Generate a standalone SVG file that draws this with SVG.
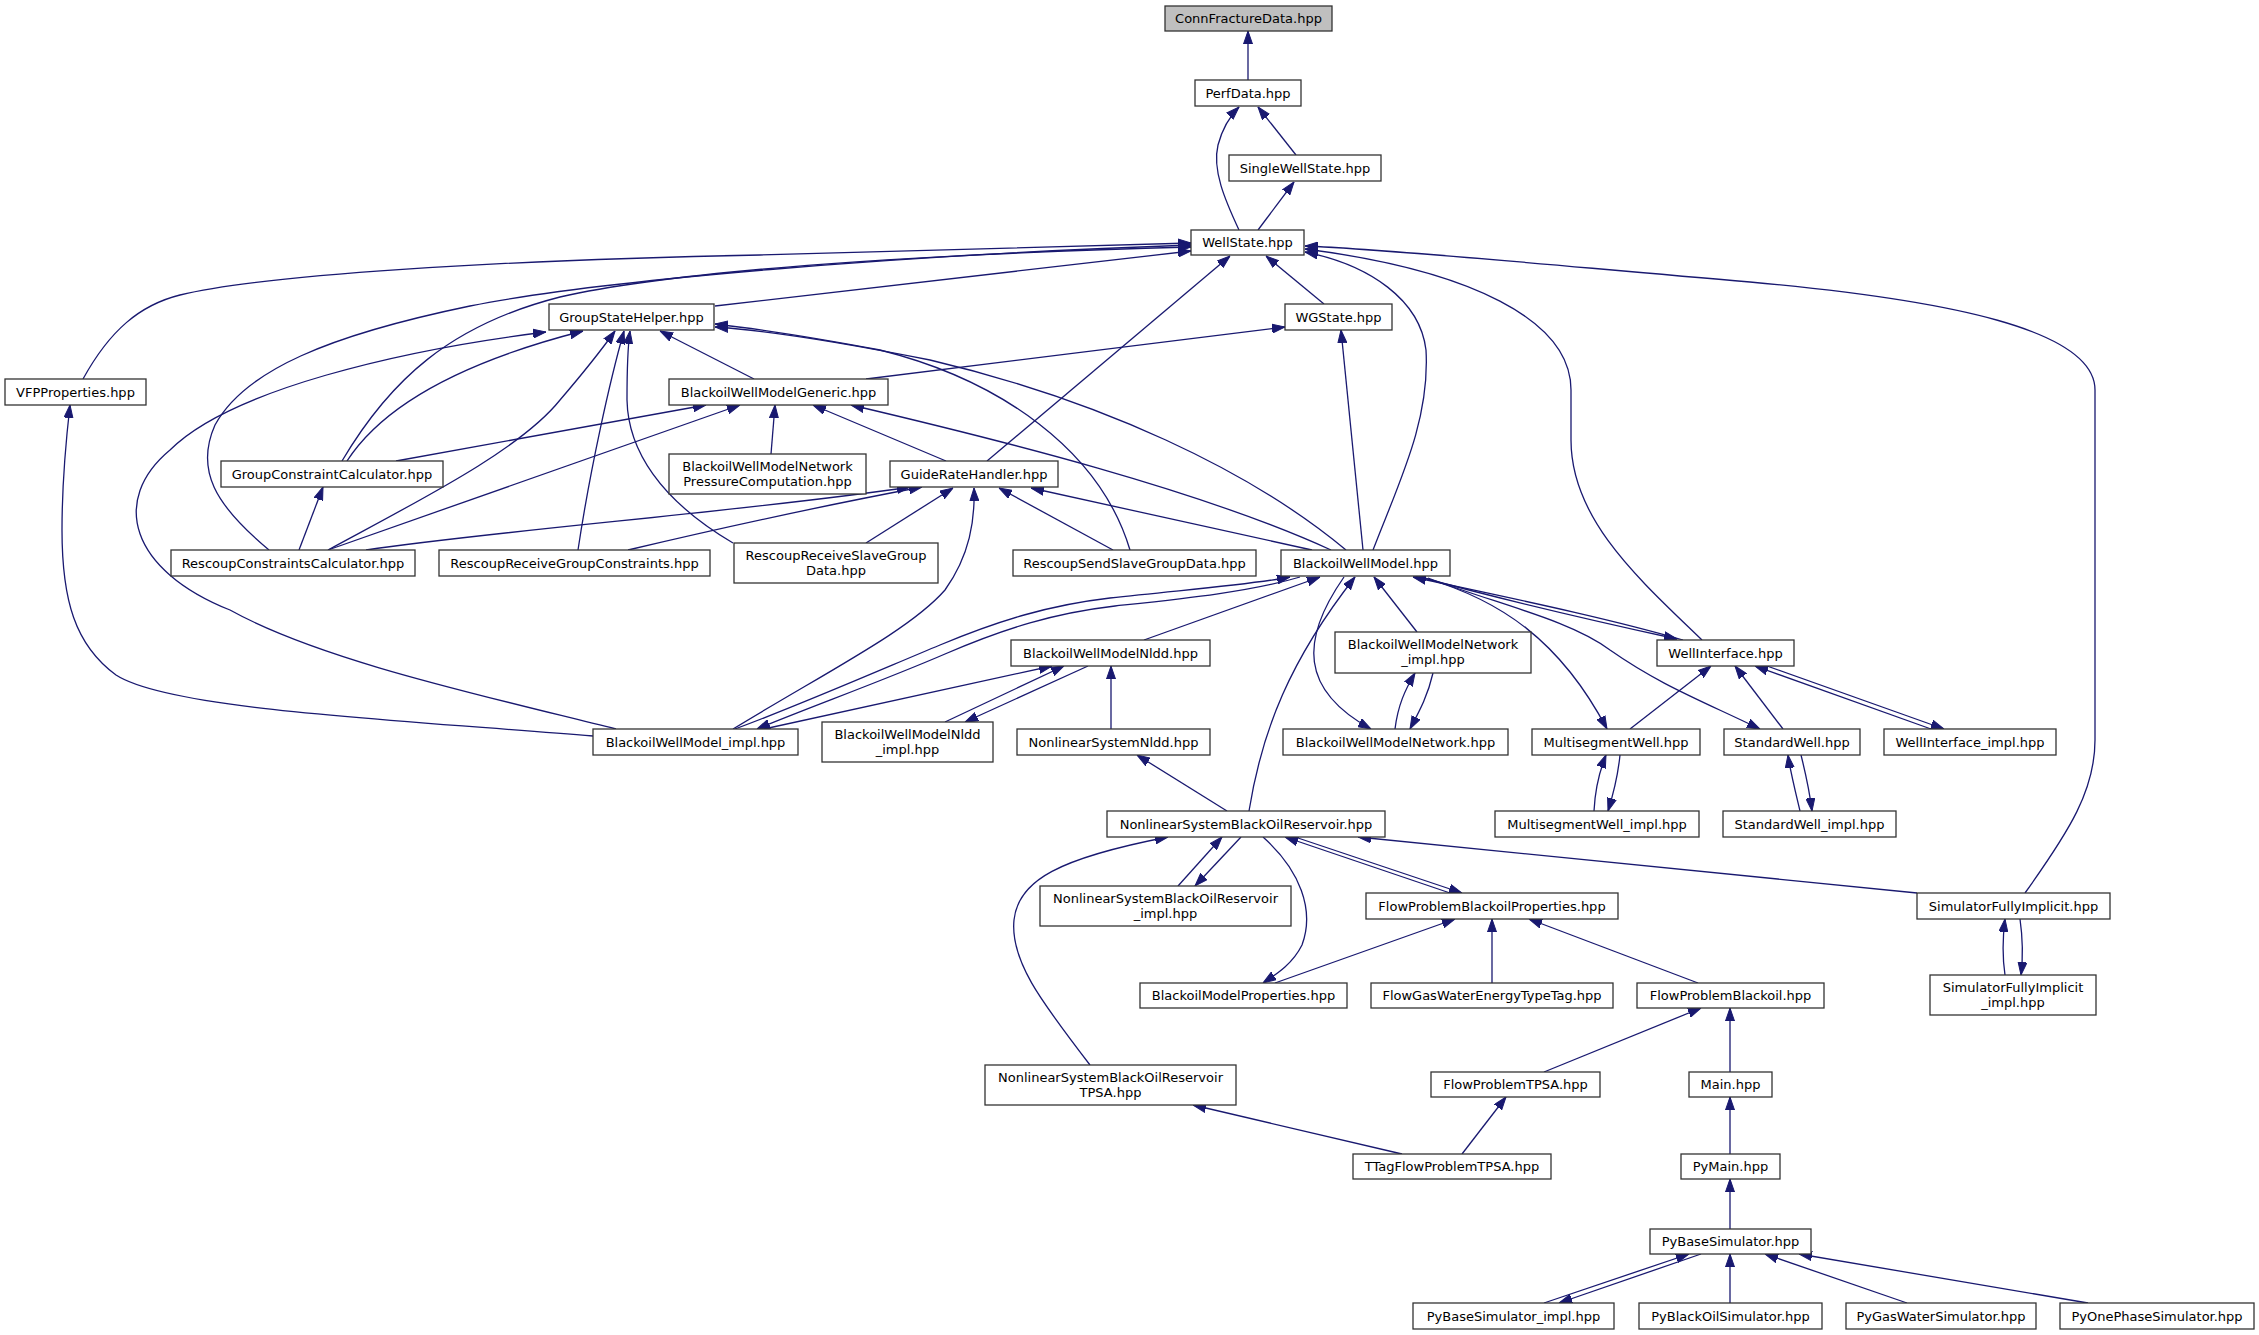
<svg xmlns="http://www.w3.org/2000/svg" width="2259" height="1335" viewBox="0 0 2259 1335">
<style>
.node rect{fill:#fff;stroke:#333;stroke-width:1.3}
.node.root rect{fill:#bfbfbf}
.node text{font-family:"DejaVu Sans","Liberation Sans",sans-serif;font-size:13px;fill:#000;text-anchor:middle}
.edges path{fill:none;stroke:#191970;stroke-width:1.3;marker-end:url(#ah)}
</style>
<defs>
<marker id="ah" viewBox="0 0 13 10" refX="13" refY="5" markerWidth="13" markerHeight="10" orient="auto" markerUnits="userSpaceOnUse">
<path d="M0,0.5 L13,5 L0,9.5 z" fill="#191970" stroke="#191970" stroke-width="1"/>
</marker>
</defs>
<rect width="2259" height="1335" fill="#fff"/>
<g class="edges" id="edges">
<path d="M1248,80 L1248,31"/>
<path d="M1296,155 L1258,107"/>
<path d="M1239,230 C1225,200 1212,170 1218,145 C1222,130 1228,118 1239,107"/>
<path d="M1258,230 L1294,182"/>
<path d="M83,379 C110,330 140,305 180,295 C260,275 500,260 760,255 C950,251 1100,246 1191,243"/>
<path d="M715,306 L1191,251"/>
<path d="M1324,304 L1266,256"/>
<path d="M342,461 C390,380 450,325 560,297 C700,265 1000,252 1191,247"/>
<path d="M269,550 C215,505 195,470 215,425 C245,370 330,335 470,306 C600,280 900,255 1191,245"/>
<path d="M987,461 L1230,256"/>
<path d="M1373,550 C1400,480 1430,420 1426,350 C1420,300 1370,265 1305,252"/>
<path d="M1702,640 C1640,580 1571,520 1571,440 L1571,390 C1571,320 1470,270 1305,249"/>
<path d="M2025,893 C2070,830 2095,790 2095,740 L2095,390 C2095,330 1950,300 1750,282 C1550,265 1400,250 1305,246"/>
<path d="M754,379 L660,331"/>
<path d="M347,461 C380,410 450,365 583,331"/>
<path d="M328,550 C420,500 520,450 560,400 C590,365 605,345 615,331"/>
<path d="M578,550 C590,470 610,380 624,331"/>
<path d="M733,543 C660,500 628,450 627,400 C627,370 628,345 630,331"/>
<path d="M1130,550 C1100,450 1000,380 880,350 C800,335 750,328 715,324"/>
<path d="M1346,550 C1250,470 1100,400 930,360 C830,340 760,330 715,327"/>
<path d="M616,729 C480,695 320,660 230,610 C130,570 110,500 170,450 C230,390 400,350 546,332"/>
<path d="M866,379 L1285,327"/>
<path d="M1363,550 L1341,330"/>
<path d="M593,736 C400,720 170,710 116,675 C75,645 62,600 62,530 C62,480 66,440 70,405"/>
<path d="M396,461 L706,405"/>
<path d="M328,550 L740,405"/>
<path d="M771,454 L775,405"/>
<path d="M946,461 L813,405"/>
<path d="M1331,550 C1200,490 1000,440 851,405"/>
<path d="M299,550 L323,487"/>
<path d="M366,550 C500,530 760,510 910,487"/>
<path d="M628,550 C700,533 800,510 922,487"/>
<path d="M866,543 L953,488"/>
<path d="M1113,550 L999,488"/>
<path d="M1312,550 L1031,488"/>
<path d="M733,729 C830,670 910,630 945,590 C970,555 975,520 974,488"/>
<path d="M735,729 C800,705 880,670 940,645 C1000,620 1050,605 1110,598 C1180,590 1250,585 1290,577"/>
<path d="M1300,577 C1250,592 1180,599 1115,606 C1055,613 1005,628 945,654 C885,680 810,707 757,729"/>
<path d="M1144,640 L1320,577"/>
<path d="M764,729 L1052,666"/>
<path d="M945,722 L1064,666"/>
<path d="M1088,666 L965,722"/>
<path d="M1111,729 L1111,666"/>
<path d="M1227,811 L1137,755"/>
<path d="M1249,811 C1262,730 1290,660 1355,577"/>
<path d="M1344,577 C1300,640 1300,690 1371,729"/>
<path d="M1417,632 L1374,577"/>
<path d="M1395,729 C1398,705 1405,690 1415,673"/>
<path d="M1433,673 C1428,695 1420,710 1410,729"/>
<path d="M1683,640 C1600,616 1500,596 1413,577"/>
<path d="M1420,577 C1500,599 1590,620 1677,639"/>
<path d="M1425,578 C1500,600 1560,640 1607,729"/>
<path d="M1428,578 C1500,605 1570,620 1610,650 C1660,685 1700,700 1760,729"/>
<path d="M1630,729 L1711,666"/>
<path d="M1783,729 L1735,666"/>
<path d="M1931,729 L1755,666"/>
<path d="M1767,666 L1944,729"/>
<path d="M1594,811 C1595,790 1600,770 1606,755"/>
<path d="M1620,755 C1618,775 1613,795 1608,811"/>
<path d="M1800,811 C1795,790 1790,770 1788,755"/>
<path d="M1801,755 C1806,775 1810,795 1812,811"/>
<path d="M1090,1065 C1040,1000 1010,960 1014,920 C1018,880 1060,858 1168,837"/>
<path d="M1178,886 L1222,837"/>
<path d="M1241,837 L1195,886"/>
<path d="M1263,837 C1300,870 1315,910 1302,945 C1292,965 1275,975 1263,983"/>
<path d="M1450,893 L1285,837"/>
<path d="M1295,837 L1462,893"/>
<path d="M1917,893 L1358,837"/>
<path d="M1275,983 L1455,919"/>
<path d="M1492,983 L1492,919"/>
<path d="M1698,983 L1529,919"/>
<path d="M1544,1072 L1701,1008"/>
<path d="M1730,1072 L1730,1008"/>
<path d="M1462,1154 L1506,1097"/>
<path d="M1402,1154 L1193,1105"/>
<path d="M1730,1154 L1730,1097"/>
<path d="M1730,1229 L1730,1179"/>
<path d="M1544,1303 L1689,1254"/>
<path d="M1701,1254 L1559,1303"/>
<path d="M1730,1303 L1730,1254"/>
<path d="M1907,1303 L1765,1254"/>
<path d="M2088,1303 L1799,1254"/>
<path d="M2005,975 C2002,955 2003,935 2005,919"/>
<path d="M2020,919 C2023,940 2023,958 2021,975"/>
</g>
<g id="n_cfd" class="node root"><rect x="1165" y="6" width="167" height="25"/><text x="1248.5" y="23">ConnFractureData.hpp</text></g>
<g id="n_perf" class="node"><rect x="1195" y="80" width="106" height="26"/><text x="1248" y="97.5">PerfData.hpp</text></g>
<g id="n_sws" class="node"><rect x="1229" y="155" width="152" height="26"/><text x="1305" y="172.5">SingleWellState.hpp</text></g>
<g id="n_ws" class="node"><rect x="1191" y="230" width="113" height="25"/><text x="1247.5" y="247">WellState.hpp</text></g>
<g id="n_gsh" class="node"><rect x="549" y="304" width="165" height="26"/><text x="631.5" y="321.5">GroupStateHelper.hpp</text></g>
<g id="n_wg" class="node"><rect x="1285" y="304" width="107" height="26"/><text x="1338.5" y="321.5">WGState.hpp</text></g>
<g id="n_vfp" class="node"><rect x="5" y="379" width="141" height="26"/><text x="75.5" y="396.5">VFPProperties.hpp</text></g>
<g id="n_bwmg" class="node"><rect x="669" y="379" width="219" height="26"/><text x="778.5" y="396.5">BlackoilWellModelGeneric.hpp</text></g>
<g id="n_gcc" class="node"><rect x="221" y="461" width="222" height="26"/><text x="332" y="478.5">GroupConstraintCalculator.hpp</text></g>
<g id="n_bwmnpc" class="node"><rect x="669" y="454" width="197" height="40"/><text x="767.5" y="471">BlackoilWellModelNetwork</text><text x="767.5" y="485.5">PressureComputation.hpp</text></g>
<g id="n_grh" class="node"><rect x="890" y="461" width="168" height="26"/><text x="974" y="478.5">GuideRateHandler.hpp</text></g>
<g id="n_rcc" class="node"><rect x="171" y="550" width="244" height="26"/><text x="293" y="567.5">RescoupConstraintsCalculator.hpp</text></g>
<g id="n_rrgc" class="node"><rect x="439" y="550" width="271" height="26"/><text x="574.5" y="567.5">RescoupReceiveGroupConstraints.hpp</text></g>
<g id="n_rrsgd" class="node"><rect x="734" y="543" width="204" height="40"/><text x="836" y="560">RescoupReceiveSlaveGroup</text><text x="836" y="574.5">Data.hpp</text></g>
<g id="n_rssgd" class="node"><rect x="1013" y="550" width="243" height="26"/><text x="1134.5" y="567.5">RescoupSendSlaveGroupData.hpp</text></g>
<g id="n_bwm" class="node"><rect x="1281" y="550" width="169" height="26"/><text x="1365.5" y="567.5">BlackoilWellModel.hpp</text></g>
<g id="n_nldd" class="node"><rect x="1011" y="640" width="199" height="26"/><text x="1110.5" y="657.5">BlackoilWellModelNldd.hpp</text></g>
<g id="n_netimpl" class="node"><rect x="1335" y="632" width="196" height="41"/><text x="1433" y="649">BlackoilWellModelNetwork</text><text x="1433" y="663.5">_impl.hpp</text></g>
<g id="n_wi" class="node"><rect x="1657" y="640" width="137" height="26"/><text x="1725.5" y="657.5">WellInterface.hpp</text></g>
<g id="n_bwmimpl" class="node"><rect x="593" y="729" width="205" height="26"/><text x="695.5" y="746.5">BlackoilWellModel_impl.hpp</text></g>
<g id="n_nlddimpl" class="node"><rect x="822" y="722" width="171" height="40"/><text x="907.5" y="739">BlackoilWellModelNldd</text><text x="907.5" y="753.5">_impl.hpp</text></g>
<g id="n_nsnldd" class="node"><rect x="1017" y="729" width="193" height="26"/><text x="1113.5" y="746.5">NonlinearSystemNldd.hpp</text></g>
<g id="n_net" class="node"><rect x="1283" y="729" width="225" height="26"/><text x="1395.5" y="746.5">BlackoilWellModelNetwork.hpp</text></g>
<g id="n_msw" class="node"><rect x="1532" y="729" width="168" height="26"/><text x="1616" y="746.5">MultisegmentWell.hpp</text></g>
<g id="n_sw" class="node"><rect x="1724" y="729" width="136" height="26"/><text x="1792" y="746.5">StandardWell.hpp</text></g>
<g id="n_wiimpl" class="node"><rect x="1884" y="729" width="172" height="26"/><text x="1970" y="746.5">WellInterface_impl.hpp</text></g>
<g id="n_nsbor" class="node"><rect x="1107" y="811" width="278" height="26"/><text x="1246" y="828.5">NonlinearSystemBlackOilReservoir.hpp</text></g>
<g id="n_mswimpl" class="node"><rect x="1495" y="811" width="204" height="26"/><text x="1597" y="828.5">MultisegmentWell_impl.hpp</text></g>
<g id="n_swimpl" class="node"><rect x="1723" y="811" width="173" height="26"/><text x="1809.5" y="828.5">StandardWell_impl.hpp</text></g>
<g id="n_nsborimpl" class="node"><rect x="1040" y="886" width="251" height="40"/><text x="1165.5" y="903">NonlinearSystemBlackOilReservoir</text><text x="1165.5" y="917.5">_impl.hpp</text></g>
<g id="n_fpbp" class="node"><rect x="1366" y="893" width="252" height="26"/><text x="1492" y="910.5">FlowProblemBlackoilProperties.hpp</text></g>
<g id="n_simfi" class="node"><rect x="1917" y="893" width="193" height="26"/><text x="2013.5" y="910.5">SimulatorFullyImplicit.hpp</text></g>
<g id="n_bmp" class="node"><rect x="1140" y="983" width="207" height="25"/><text x="1243.5" y="1000">BlackoilModelProperties.hpp</text></g>
<g id="n_fgwett" class="node"><rect x="1371" y="983" width="242" height="25"/><text x="1492" y="1000">FlowGasWaterEnergyTypeTag.hpp</text></g>
<g id="n_fpb" class="node"><rect x="1637" y="983" width="187" height="25"/><text x="1730.5" y="1000">FlowProblemBlackoil.hpp</text></g>
<g id="n_simfiimpl" class="node"><rect x="1930" y="975" width="166" height="40"/><text x="2013" y="992">SimulatorFullyImplicit</text><text x="2013" y="1006.5">_impl.hpp</text></g>
<g id="n_nsbortpsa" class="node"><rect x="985" y="1065" width="251" height="40"/><text x="1110.5" y="1082">NonlinearSystemBlackOilReservoir</text><text x="1110.5" y="1096.5">TPSA.hpp</text></g>
<g id="n_fptpsa" class="node"><rect x="1431" y="1072" width="169" height="25"/><text x="1515.5" y="1089">FlowProblemTPSA.hpp</text></g>
<g id="n_main" class="node"><rect x="1689" y="1072" width="83" height="25"/><text x="1730.5" y="1089">Main.hpp</text></g>
<g id="n_ttag" class="node"><rect x="1353" y="1154" width="198" height="25"/><text x="1452" y="1171">TTagFlowProblemTPSA.hpp</text></g>
<g id="n_pymain" class="node"><rect x="1681" y="1154" width="99" height="25"/><text x="1730.5" y="1171">PyMain.hpp</text></g>
<g id="n_pybase" class="node"><rect x="1650" y="1229" width="161" height="25"/><text x="1730.5" y="1246">PyBaseSimulator.hpp</text></g>
<g id="n_pybaseimpl" class="node"><rect x="1413" y="1303" width="201" height="26"/><text x="1513.5" y="1320.5">PyBaseSimulator_impl.hpp</text></g>
<g id="n_pyblack" class="node"><rect x="1639" y="1303" width="183" height="26"/><text x="1730.5" y="1320.5">PyBlackOilSimulator.hpp</text></g>
<g id="n_pygas" class="node"><rect x="1846" y="1303" width="190" height="26"/><text x="1941" y="1320.5">PyGasWaterSimulator.hpp</text></g>
<g id="n_pyone" class="node"><rect x="2060" y="1303" width="194" height="26"/><text x="2157" y="1320.5">PyOnePhaseSimulator.hpp</text></g>
</svg>
